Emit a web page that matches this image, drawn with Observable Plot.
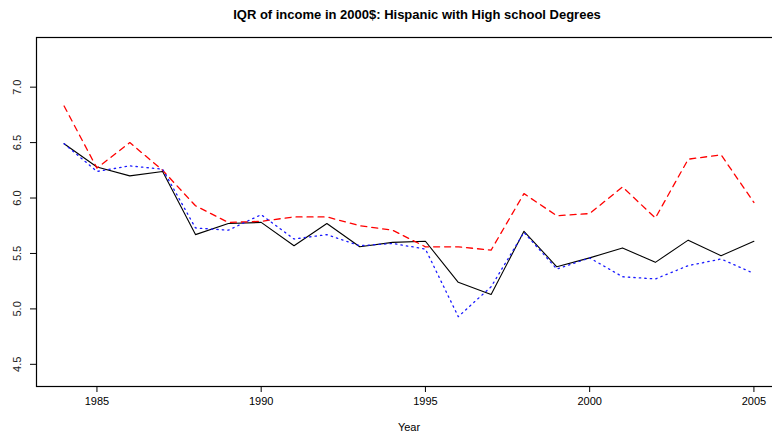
<!DOCTYPE html>
<html>
<head>
<meta charset="utf-8">
<script src="https://cdn.jsdelivr.net/npm/d3@7"></script>
<script src="https://cdn.jsdelivr.net/npm/@observablehq/plot@0.6"></script>
<style>
  html, body { margin: 0; padding: 0; background: #fff; }
  svg { display: block; }
</style>
</head>
<body>
<div id="chart"></div>
<script>
// Interquartile range of income (2000 dollars), Hispanic workers with high school degrees
const years = [1984, 1985, 1986, 1987, 1988, 1989, 1990, 1991, 1992, 1993, 1994,
               1995, 1996, 1997, 1998, 1999, 2000, 2001, 2002, 2003, 2004, 2005];
const lineBlack = [6.49, 6.28, 6.20, 6.24, 5.67, 5.77, 5.78, 5.57, 5.77, 5.56, 5.60,
                   5.61, 5.24, 5.13, 5.70, 5.38, 5.46, 5.55, 5.42, 5.62, 5.48, 5.61];
const lineRed   = [6.83, 6.27, 6.50, 6.25, 5.93, 5.78, 5.79, 5.83, 5.83, 5.75, 5.71,
                   5.56, 5.56, 5.53, 6.04, 5.84, 5.86, 6.10, 5.82, 6.35, 6.39, 5.96];
const lineBlue  = [6.49, 6.24, 6.29, 6.26, 5.73, 5.71, 5.85, 5.63, 5.67, 5.57, 5.59,
                   5.54, 4.93, 5.20, 5.69, 5.36, 5.46, 5.29, 5.27, 5.39, 5.45, 5.32];
const xTicks = [1985, 1990, 1995, 2000, 2005];
const yTicks = [4.5, 5.0, 5.5, 6.0, 6.5, 7.0];
const title = "IQR of income in 2000$: Hispanic with High school Degrees";
const xLabel = "Year";

const rows = years.map((year, i) => ({
  year, black: lineBlack[i], red: lineRed[i], blue: lineBlue[i]
}));

const chart = Plot.plot({
  width: 772,
  height: 434,
  marginLeft: 36,
  marginRight: -9,
  marginTop: 37,
  marginBottom: 48,
  x: {domain: [1983.16, 2005.84]},
  y: {domain: [4.30, 7.448]},
  style: {
    fontFamily: "'Liberation Sans', Arial, Helvetica, sans-serif",
    fontSize: "11px",
    color: "#000",
    background: "#fff"
  },
  marks: [
    Plot.frame({stroke: "#000", strokeWidth: 1.2}),
    Plot.axisX({
      ticks: xTicks, tickSize: 6, tickPadding: 5,
      tickFormat: d => String(d), label: null, fontSize: 11, stroke: "#000"
    }),
    Plot.axisY({
      ticks: yTicks, tickSize: 6, tickFormat: () => "", label: null, stroke: "#000"
    }),
    Plot.text(yTicks, {
      y: d => d, text: d => d.toFixed(1), frameAnchor: "left",
      rotate: -90, dx: -19, textAnchor: "middle", lineAnchor: "middle",
      fontSize: 11, fill: "#222"
    }),
    Plot.line(rows, {x: "year", y: "black", stroke: "#000", strokeWidth: 1.1}),
    Plot.line(rows, {x: "year", y: "red", stroke: "#ff0000", strokeWidth: 1.3,
                     strokeDasharray: "6,5"}),
    Plot.line(rows, {x: "year", y: "blue", stroke: "#1a1aff", strokeWidth: 1.3,
                     strokeDasharray: "1.4,4.1"}),
    Plot.text([title], {
      text: d => d, frameAnchor: "top", dy: -23, dx: 8,
      fontWeight: "bold", fontSize: 13, lineAnchor: "middle"
    }),
    Plot.text([xLabel], {
      text: d => d, frameAnchor: "bottom", dy: 41, lineAnchor: "middle",
      fontSize: 11
    })
  ]
});

document.getElementById("chart").append(chart);
</script>
</body>
</html>
